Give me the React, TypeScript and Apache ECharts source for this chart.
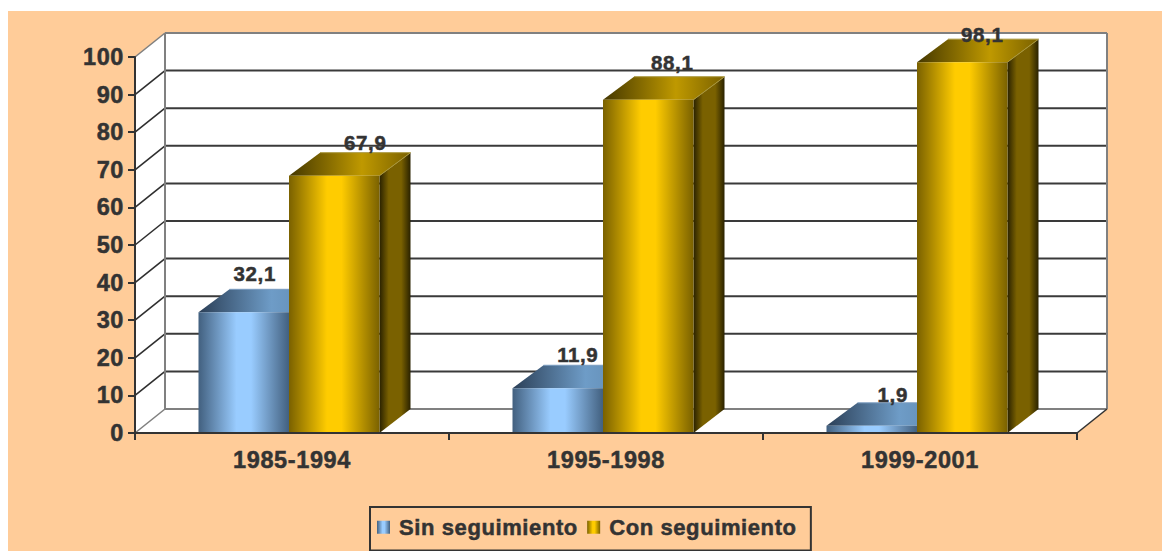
import React, { useEffect, useRef } from "react";
import * as echarts from "echarts";

const categories = ["1985-1994", "1995-1998", "1999-2001"];
const sinSeguimiento = [32.1, 11.9, 1.9];
const conSeguimiento = [67.9, 88.1, 98.1];
const yTicks = [0, 10, 20, 30, 40, 50, 60, 70, 80, 90, 100];

// Hand-placed data label nudges from the reference (dx, dy from front-top centre of each bar)
const sinLabelNudge = [[11, -39], [20, -34], [21, -31]];
const conLabelNudge = [[31, -33], [24, -37], [20, -28]];

const WALL_DX = 30;
const WALL_DY = 24;
const BAR_DX = 31;
const BAR_DY = 23;
const BAR_W = 90.5;
const TEXT = "#333333";
const GRAY = "#808080";

const grad = (stops: [number, string][]) =>
  new echarts.graphic.LinearGradient(0, 0, 1, 0, stops.map(([offset, color]) => ({ offset, color })));

const blueFront = () => grad([[0, "#42607f"], [0.42, "#99ccff"], [0.58, "#99ccff"], [1, "#42607f"]]);
const blueTop = () => grad([[0, "#2b3f57"], [0.6, "#6e9cc7"], [1, "#5f88ae"]]);
const blueSide = () => grad([[0, "#1f2e40"], [0.3, "#42607f"], [1, "#1f2e40"]]);
const goldFront = () => grad([[0, "#7a6100"], [0.42, "#ffcc00"], [0.58, "#ffcc00"], [1, "#7a6100"]]);
const goldTop = () => grad([[0, "#443700"], [0.6, "#bf9900"], [1, "#7a6100"]]);
const goldSide = () => grad([[0, "#2a2200"], [0.3, "#7a6100"], [0.7, "#7a6100"], [1, "#2a2200"]]);

function barRenderer(offset: number, lift: number, front: () => any, top: () => any, side: () => any, edge: string, nudges: number[][]) {
  return (params: any, api: any) => {
    const cat = api.value(0);
    const val = api.value(1);
    const [cx, yTop0] = api.coord([cat, val]);
    const [, yBase] = api.coord([cat, 0]);
    const yTop = yTop0 - lift;
    const x0 = cx - 3 + offset * BAR_W;
    const x1 = x0 + BAR_W;
    const n = nudges[params.dataIndex];
    return {
      type: "group",
      children: [
        {
          type: "polygon",
          shape: { points: [[x1, yTop], [x1 + BAR_DX, yTop - BAR_DY], [x1 + BAR_DX, yBase - BAR_DY - 1], [x1, yBase]] },
          style: { fill: side() },
        },
        {
          type: "polygon",
          shape: { points: [[x0, yTop], [x0 + BAR_DX, yTop - BAR_DY], [x1 + BAR_DX, yTop - BAR_DY], [x1, yTop]] },
          style: { fill: top() },
        },
        {
          type: "polyline",
          shape: { points: [[x0 + BAR_DX, yTop - BAR_DY], [x1 + BAR_DX, yTop - BAR_DY], [x1, yTop]] },
          style: { stroke: edge, lineWidth: 1, fill: "none" },
        },
        {
          type: "rect",
          shape: { x: x0, y: yTop, width: BAR_W, height: yBase - yTop },
          style: { fill: front() },
        },
        {
          type: "text",
          style: {
            x: (x0 + x1) / 2 + n[0],
            y: yTop + n[1],
            text: String(val).replace(".", ","),
            fill: TEXT,
            fontSize: 20.5,
            fontWeight: "bold",
            fontFamily: "Liberation Sans",
            align: "center",
            verticalAlign: "middle",
            stroke: TEXT,
            lineWidth: 0.5,
          },
        },
      ],
    };
  };
}

function wallsRenderer(params: any) {
  const { x, y, width, height } = params.coordSys;
  const b = y + height;
  const r = x + width;
  return {
    type: "group",
    children: [
      { type: "polygon", shape: { points: [[x + WALL_DX, y - WALL_DY], [r + WALL_DX, y - WALL_DY], [r + WALL_DX, b - WALL_DY], [x + WALL_DX, b - WALL_DY]] }, style: { fill: "#ffffff" } },
      { type: "polygon", shape: { points: [[x, y], [x + WALL_DX, y - WALL_DY], [x + WALL_DX, b - WALL_DY], [x, b]] }, style: { fill: "#ffffff" } },
      { type: "polygon", shape: { points: [[x, b], [x + WALL_DX, b - WALL_DY], [r + WALL_DX, b - WALL_DY], [r, b]] }, style: { fill: "#ffffff" } },
    ],
  };
}

function gridRenderer(params: any, api: any) {
  const v = api.value(1);
  const [, yv] = api.coord([0, v]);
  const { x, width } = params.coordSys;
  const edge = v === 0 || v === 100;
  const color = edge ? GRAY : "#3a3a3a";
  return {
    type: "group",
    children: [
      { type: "polyline", shape: { points: [[x, yv], [x + WALL_DX, yv - WALL_DY]] }, style: { stroke: edge ? GRAY : "#2f2f2f", lineWidth: 1.6, fill: "none" } },
      { type: "polyline", shape: { points: [[x + WALL_DX, yv - WALL_DY], [x + width + WALL_DX, yv - WALL_DY]] }, style: { stroke: color, lineWidth: 2, fill: "none" } },
    ],
  };
}

function framingRenderer(params: any) {
  const { x, y, width, height } = params.coordSys;
  const b = y + height;
  const r = x + width;
  return {
    type: "group",
    children: [
      { type: "polyline", shape: { points: [[x + WALL_DX, y - WALL_DY], [x + WALL_DX, b - WALL_DY]] }, style: { stroke: GRAY, lineWidth: 2, fill: "none" } },
      { type: "polyline", shape: { points: [[r + WALL_DX, y - WALL_DY], [r + WALL_DX, b - WALL_DY]] }, style: { stroke: GRAY, lineWidth: 2, fill: "none" } },
      { type: "polyline", shape: { points: [[r, b], [r + WALL_DX, b - WALL_DY]] }, style: { stroke: "#333333", lineWidth: 1.6, fill: "none" } },
    ],
  };
}

const boldText = { color: TEXT, fontWeight: "bold", fontFamily: "Liberation Sans", textBorderColor: TEXT, textBorderWidth: 0.5 };

export default function App() {
  const ref = useRef<HTMLDivElement>(null);
  useEffect(() => {
    const chart = echarts.init(ref.current!, undefined, { renderer: "svg" });
    chart.setOption({
      animation: false,
      backgroundColor: "#ffffff",
      textStyle: { fontFamily: "Liberation Sans" },
      graphic: [
        {
          type: "rect",
          z: -10,
          shape: { x: 8, y: 11, width: 1154, height: 540 },
          style: { fill: "#FFCC99" },
        },
      ],
      grid: { left: 135, top: 57, width: 942, height: 376, show: false },
      xAxis: {
        type: "category",
        data: categories,
        z: 6,
        axisLine: { lineStyle: { color: "#333333", width: 2 } },
        axisTick: { show: true, length: 7, alignWithLabel: false, lineStyle: { color: "#333333", width: 2 } },
        axisLabel: { ...boldText, fontSize: 23.5, margin: 15 },
        splitLine: { show: false },
      },
      yAxis: {
        type: "value",
        min: 0,
        max: 100,
        interval: 10,
        z: 6,
        axisLine: { show: true, lineStyle: { color: "#333333", width: 2 } },
        axisTick: { show: true, length: 7, lineStyle: { color: "#333333", width: 2 } },
        axisLabel: { ...boldText, fontSize: 23.5, margin: 11, padding: [0, 0, 2, 0] },
        splitLine: { show: false },
      },
      legend: {
        data: ["Sin seguimiento", "Con seguimiento"],
        left: 370,
        top: 507,
        orient: "horizontal",
        itemWidth: 13,
        itemHeight: 13,
        itemGap: 18,
        padding: [9, 23, 12, 7],
        borderColor: "#333333",
        borderWidth: 2,
        backgroundColor: "transparent",
        icon: "rect",
        selectedMode: false,
        textStyle: { ...boldText, fontSize: 22, padding: [15, 0, 0, 4] },
      },
      series: [
        { type: "custom", name: "walls", z: 1, silent: true, data: [[0, 0]], renderItem: wallsRenderer },
        { type: "custom", name: "grid", z: 2, silent: true, data: yTicks.map((t) => [0, t]), renderItem: gridRenderer },
        { type: "custom", name: "frame", z: 3, silent: true, data: [[0, 0]], renderItem: framingRenderer },
        {
          type: "custom",
          name: "Sin seguimiento",
          z: 4,
          data: sinSeguimiento.map((v, i) => [i, v]),
          itemStyle: { color: blueFront() },
          renderItem: barRenderer(-1, 0, blueFront, blueTop, blueSide, "#7a9cc0", sinLabelNudge),
        },
        {
          type: "custom",
          name: "Con seguimiento",
          z: 5,
          data: conSeguimiento.map((v, i) => [i, v]),
          itemStyle: { color: goldFront() },
          renderItem: barRenderer(0, 2, goldFront, goldTop, goldSide, "#a8963c", conLabelNudge),
        },
      ],
    });
    return () => chart.dispose();
  }, []);
  return (
    <div
      ref={ref}
      style={{ position: "fixed", left: 0, top: 0, width: 1162, height: 551, letterSpacing: "0.6px" }}
    />
  );
}
